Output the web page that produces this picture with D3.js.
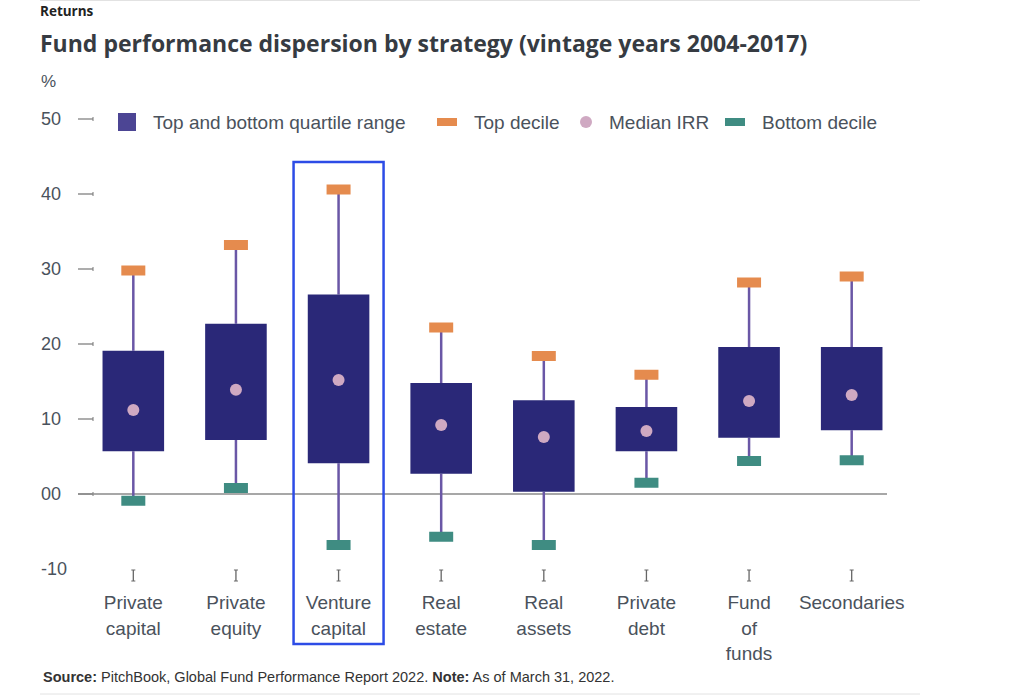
<!DOCTYPE html>
<html>
<head>
<meta charset="utf-8">
<script src="https://cdn.jsdelivr.net/npm/d3@7"></script>
<style>
  body { margin: 0; background: #fff; }
  text { font-family: "Liberation Sans", Arial, sans-serif; }
</style>
</head>
<body>
<div id="chart"></div>
<script>
const width = 1024;
const height = 695;

// data (IRR, %)
const strategies = [
  ["Private", "capital"],
  ["Private", "equity"],
  ["Venture", "capital"],
  ["Real", "estate"],
  ["Real", "assets"],
  ["Private", "debt"],
  ["Fund", "of", "funds"],
  ["Secondaries"]
];
const topDecile = [29.8, 33.2, 40.6, 22.2, 18.4, 15.9, 28.2, 29.0];
const topQuartile = [19.1, 22.7, 26.6, 14.8, 12.5, 11.6, 19.6, 19.6];
const medianIRR = [11.2, 13.9, 15.2, 9.2, 7.6, 8.4, 12.4, 13.2];
const bottomQuartile = [5.7, 7.2, 4.1, 2.7, 0.3, 5.7, 7.5, 8.5];
const bottomDecile = [-0.9, 0.8, -6.8, -5.7, -6.8, 1.5, 4.4, 4.5];
const yTicks = [50, 40, 30, 20, 10, 0, -10];
const yTickLabels = ["50", "40", "30", "20", "10", "00", "-10"];
const highlighted = "Venture capital";

const legendItems = [
  { label: "Top and bottom quartile range", type: "box" },
  { label: "Top decile", type: "top" },
  { label: "Median IRR", type: "median" },
  { label: "Bottom decile", type: "bottom" }
];

const colors = {
  box: "#2a2878",
  legendBox: "#4c4594",
  whisker: "#6a57a6",
  top: "#e58b4e",
  bottom: "#3f8c82",
  median: "#cfa9c2",
  text: "#4a525c",
  title: "#363b42",
  highlight: "#2d4ce6"
};

const data = strategies.map((s, i) => ({
  name: s.join(" "),
  lines: s,
  top: topDecile[i],
  q3: topQuartile[i],
  med: medianIRR[i],
  q1: bottomQuartile[i],
  bot: bottomDecile[i]
}));

const svg = d3.select("#chart").append("svg")
  .attr("width", width)
  .attr("height", height);

// frame lines
svg.append("line").attr("x1", 40).attr("x2", 920).attr("y1", 0.5).attr("y2", 0.5)
  .attr("stroke", "#e2e2e2");
svg.append("line").attr("x1", 40).attr("x2", 920).attr("y1", 694).attr("y2", 694)
  .attr("stroke", "#e2e2e2");

svg.append("text").attr("x", 40).attr("y", 16)
  .style("font-family", "'Open Sans', sans-serif")
  .style("font-size", "13.5px").style("font-weight", "bold").attr("fill", "#222")
  .text("Returns");

svg.append("text").attr("x", 40).attr("y", 52)
  .style("font-family", "'Open Sans', sans-serif")
  .style("font-size", "23px").style("font-weight", "bold").attr("fill", colors.title)
  .text("Fund performance dispersion by strategy (vintage years 2004-2017)");

svg.append("text").attr("x", 41).attr("y", 87)
  .style("font-size", "17px").attr("fill", colors.text)
  .text("%");

const xScale = d3.scaleBand()
  .domain(data.map(d => d.name))
  .range([82, 903])
  .paddingInner(0.4)
  .paddingOuter(0.2);

const yScale = d3.scaleLinear()
  .domain([-10, 50])
  .range([569, 119]);

// y axis ticks
const yAxisG = svg.append("g");
yTicks.forEach((t, i) => {
  const y = yScale(t);
  yAxisG.append("text")
    .attr("x", 41).attr("y", y).attr("dy", "0.35em")
    .style("font-size", "18px").attr("fill", colors.text)
    .text(yTickLabels[i]);
  if (t !== -10) {
    yAxisG.append("line").attr("x1", 78).attr("x2", 93).attr("y1", y).attr("y2", y)
      .attr("stroke", "#777").attr("stroke-width", 1.2);
    yAxisG.append("line").attr("x1", 93).attr("x2", 93).attr("y1", y - 2).attr("y2", y + 2)
      .attr("stroke", "#777").attr("stroke-width", 1);
  }
});

// zero line
svg.append("line")
  .attr("x1", 78).attr("x2", 887)
  .attr("y1", yScale(0)).attr("y2", yScale(0))
  .attr("stroke", "#8a8a8a").attr("stroke-width", 1.5);

// legend
const legend = svg.append("g").attr("transform", "translate(0,122)");
const legendX = [118, 437, 580, 725];
legendItems.forEach((item, i) => {
  const g = legend.append("g").attr("transform", `translate(${legendX[i]},0)`);
  let textX;
  if (item.type === "box") {
    g.append("rect").attr("x", 0).attr("y", -9).attr("width", 18).attr("height", 18)
      .attr("fill", colors.legendBox);
    textX = 35;
  } else if (item.type === "median") {
    g.append("circle").attr("cx", 6).attr("cy", 0).attr("r", 6).attr("fill", colors.median);
    textX = 29;
  } else {
    g.append("rect").attr("x", 0).attr("y", -4).attr("width", 20).attr("height", 8)
      .attr("fill", item.type === "top" ? colors.top : colors.bottom);
    textX = 37;
  }
  g.append("text").attr("x", textX).attr("y", 0).attr("dy", "0.35em")
    .style("font-size", "19px").attr("fill", colors.text)
    .text(item.label);
});

const bw = xScale.bandwidth();
const cx = d => xScale(d.name) + bw / 2;
const capW = 24, capH = 10;

const groups = svg.append("g").selectAll("g")
  .data(data)
  .enter().append("g");

// whiskers
groups.append("line")
  .attr("x1", cx).attr("x2", cx)
  .attr("y1", d => yScale(d.top)).attr("y2", d => yScale(d.q3))
  .attr("stroke", colors.whisker).attr("stroke-width", 2.5);
groups.append("line")
  .attr("x1", cx).attr("x2", cx)
  .attr("y1", d => yScale(d.q1)).attr("y2", d => yScale(d.bot))
  .attr("stroke", colors.whisker).attr("stroke-width", 2.5);

// quartile boxes
groups.append("rect")
  .attr("x", d => xScale(d.name))
  .attr("y", d => yScale(d.q3))
  .attr("width", bw)
  .attr("height", d => yScale(d.q1) - yScale(d.q3))
  .attr("fill", colors.box);

// deciles
groups.append("rect")
  .attr("x", d => cx(d) - capW / 2)
  .attr("y", d => yScale(d.top) - capH / 2)
  .attr("width", capW).attr("height", capH)
  .attr("fill", colors.top);
groups.append("rect")
  .attr("x", d => cx(d) - capW / 2)
  .attr("y", d => yScale(d.bot) - capH / 2)
  .attr("width", capW).attr("height", capH)
  .attr("fill", colors.bottom);

// medians
groups.append("circle")
  .attr("cx", cx)
  .attr("cy", d => yScale(d.med))
  .attr("r", 6)
  .attr("fill", colors.median);

// category ticks + labels
groups.append("line")
  .attr("x1", cx).attr("x2", cx).attr("y1", 570).attr("y2", 581)
  .attr("stroke", "#666").attr("stroke-width", 1.3);
groups.append("line")
  .attr("x1", d => cx(d) - 2).attr("x2", d => cx(d) + 2).attr("y1", 570).attr("y2", 570)
  .attr("stroke", "#666").attr("stroke-width", 1);
groups.append("line")
  .attr("x1", d => cx(d) - 2).attr("x2", d => cx(d) + 2).attr("y1", 581).attr("y2", 581)
  .attr("stroke", "#666").attr("stroke-width", 1);

groups.append("text")
  .attr("text-anchor", "middle")
  .style("font-size", "19px").attr("fill", colors.text)
  .selectAll("tspan")
  .data(d => d.lines.map(l => ({ l, x: cx(d) })))
  .enter().append("tspan")
  .attr("x", d => d.x)
  .attr("y", (d, i) => 609 + i * 25.5)
  .text(d => d.l);

// highlight frame round the venture capital column
const hx = xScale(highlighted) + bw / 2;
svg.append("rect")
  .attr("x", hx - 45).attr("y", 162)
  .attr("width", 90).attr("height", 482)
  .attr("fill", "none")
  .attr("stroke", colors.highlight).attr("stroke-width", 2.5);

// source
const src = svg.append("text").attr("x", 43).attr("y", 682)
  .style("font-size", "14.5px").attr("fill", "#333");
src.append("tspan").style("font-weight", "bold").text("Source:");
src.append("tspan").text(" PitchBook, Global Fund Performance Report 2022. ");
src.append("tspan").style("font-weight", "bold").text("Note:");
src.append("tspan").text(" As of March 31, 2022.");
</script>
</body>
</html>
